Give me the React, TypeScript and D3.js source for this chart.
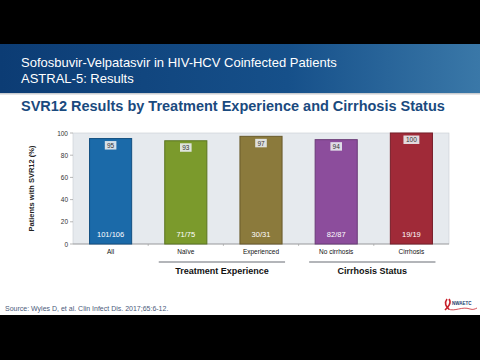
import * as d3 from "d3";

const categories = ["All", "Naïve", "Experienced", "No cirrhosis", "Cirrhosis"];
const svrValues = [95, 93, 97, 94, 100];
const fractions = ["101/106", "71/75", "30/31", "82/87", "19/19"];
const barColors = ["#1b6aa9", "#7b9a2c", "#8b7a3c", "#8c4d9c", "#a02a38"];
const barStrokes = ["#124f80", "#5a7420", "#68592a", "#693a76", "#781e29"];
const yTicks = [0, 20, 40, 60, 80, 100];
const groups = [
  { label: "Treatment Experience", from: "Naïve", to: "Experienced" },
  { label: "Cirrhosis Status", from: "No cirrhosis", to: "Cirrhosis" },
];

const W = 480;
const H = 360;
const plot = { left: 73, right: 449, top: 133, bottom: 244 };

const App = () => {
  const x = d3.scaleBand<string>()
    .domain(categories)
    .range([plot.left, plot.right])
    .paddingInner(0.44)
    .paddingOuter(0.22);

  const y = d3.scaleLinear()
    .domain([0, 100])
    .range([plot.bottom, plot.top]);

  const font = "Liberation Sans, Arial, sans-serif";
  const bw = x.bandwidth();

  return (
    <svg width={W} height={H} style={{ position: "fixed", left: 0, top: 0 }} fontFamily={font}>
      <defs>
        <linearGradient id="banner" x1="0" x2="1" y1="0" y2="0">
          <stop offset="0" stopColor="#0c3c74" />
          <stop offset="0.6" stopColor="#16508a" />
          <stop offset="1" stopColor="#3a78a8" />
        </linearGradient>
      </defs>
      <rect width={W} height={H} fill="#ffffff" />
      <rect width={W} height={44} fill="#000000" />
      <rect y={315} width={W} height={45} fill="#000000" />
      <rect y={44} width={W} height={49} fill="url(#banner)" />
      <rect y={93} width={W} height={1.5} fill="#c9ccd0" />
      <text x={21} y={67} fill="#ffffff" fontSize={13}>Sofosbuvir-Velpatasvir in HIV-HCV Coinfected Patients</text>
      <text x={21} y={83} fill="#ffffff" fontSize={13}>ASTRAL-5: Results</text>

      <text x={21} y={111} fill="#1a4a7e" fontSize={14.5} fontWeight="bold">
        SVR12 Results by Treatment Experience and Cirrhosis Status
      </text>

      {/* plot area */}
      <rect x={plot.left} y={plot.top} width={plot.right - plot.left} height={plot.bottom - plot.top}
        fill="#e6eaee" stroke="#c8cdd2" strokeWidth={0.6} />

      {yTicks.map(t => (
        <g key={t}>
          <line x1={plot.left - 3} x2={plot.left} y1={y(t)} y2={y(t)} stroke="#888" strokeWidth={0.6} />
          <text x={plot.left - 5} y={y(t) + 2.5} textAnchor="end" fontSize={6.5} fill="#333">{t}</text>
        </g>
      ))}
      <line x1={plot.left} x2={plot.right} y1={plot.bottom} y2={plot.bottom} stroke="#888" strokeWidth={0.7} />
      {categories.slice(1).map(c => (
        <line key={c} x1={(x(c) ?? 0) - x.step() * x.paddingInner() / 2} x2={(x(c) ?? 0) - x.step() * x.paddingInner() / 2}
          y1={plot.bottom} y2={plot.bottom + 2} stroke="#999" strokeWidth={0.6} />
      ))}

      <text transform={`translate(34,${(plot.top + plot.bottom) / 2}) rotate(-90)`} textAnchor="middle"
        fontSize={7.5} fontWeight="bold" fill="#222">Patients with SVR12 (%)</text>

      {categories.map((c, i) => {
        const bx = x(c) ?? 0;
        const cx = bx + bw / 2;
        const label = String(svrValues[i]);
        const boxW = label.length * 4.3 + 3;
        return (
          <g key={c}>
            <rect x={bx} y={y(svrValues[i])} width={bw} height={plot.bottom - y(svrValues[i])}
              fill={barColors[i]} stroke={barStrokes[i]} strokeWidth={1} />
            <rect x={cx - boxW / 2} y={y(svrValues[i]) + 2.5} width={boxW} height={8.5} fill="#e9ecef" opacity={0.9} />
            <text x={cx} y={y(svrValues[i]) + 9.3} textAnchor="middle" fontSize={6.5} fill="#333">{label}</text>
            <text x={cx} y={plot.bottom - 7} textAnchor="middle" fontSize={7.5} fill="#ffffff">{fractions[i]}</text>
            <text x={cx} y={plot.bottom + 10} textAnchor="middle" fontSize={6.5} fill="#111">{c}</text>
          </g>
        );
      })}

      {groups.map(g => {
        const x0 = (x(g.from) ?? 0) - 6;
        const x1 = (x(g.to) ?? 0) + bw + 3;
        return (
          <g key={g.label}>
            <line x1={x0} x2={x1} y1={262} y2={262} stroke="#9a9da2" strokeWidth={1.6} />
            <text x={(x0 + x1) / 2} y={274} textAnchor="middle" fontSize={9} fontWeight="bold" fill="#111">{g.label}</text>
          </g>
        );
      })}

      <text x={5} y={311} fontSize={7} fill="#4a5a7a">Source: Wyles D, et al. Clin Infect Dis. 2017;65:6-12.</text>

      {/* logo */}
      <path d="M447,299 C444,303 446,307 449,309 M449,299 C452,303 448,307 445,310" stroke="#c8202a" strokeWidth={1.6} fill="none" />
      <path d="M448,309 C455,312 462,306 470,309 C473,310 475,309 477,308" stroke="#c8202a" strokeWidth={0.8} fill="none" />
      <text x={452} y={305} fontSize={4.5} fill="#1a3a6e" fontWeight="bold">NWAETC</text>
    </svg>
  );
};

export default App;
